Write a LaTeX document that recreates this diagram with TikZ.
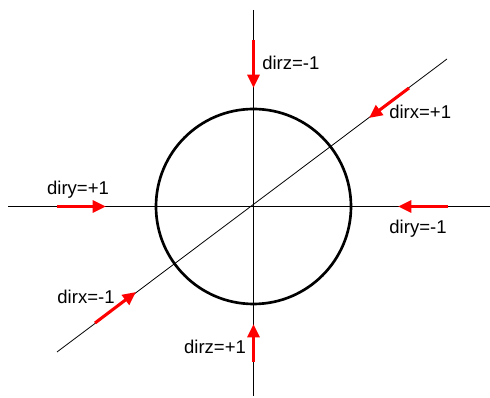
\documentclass[tikz,border=0pt]{standalone}
\usepackage{fontspec}
\setmainfont{Liberation Sans}
\usetikzlibrary{arrows.meta}
\begin{document}
\begin{tikzpicture}[x=0.75pt,y=-0.75pt,
  axis/.style={line width=0.6pt,black},
  ball/.style={circle,draw=black,line width=2pt,minimum size=195*0.75pt,inner sep=0pt},
  dirarrow/.style={red,line width=2.3pt,-{Triangle[length=10pt,width=9pt]}},
  lbl/.style={font=\fontsize{13.9}{16}\selectfont,inner sep=0pt}]
\useasboundingbox (0,0) rectangle (490,398);
% axes end points
\coordinate (ztop) at (253.5,10);
\coordinate (zbot) at (253.5,396);
\coordinate (yleft) at (8,206.5);
\coordinate (yright) at (490,206.5);
\coordinate (xtop) at (447,59);
\coordinate (xbot) at (57,352);
\node[ball] (sphere) at (253.5,206.5) {};
\draw[axis] (ztop) -- (zbot);
\draw[axis] (yleft) -- (yright);
\draw[axis] (xbot) -- (xtop);
% arrow coordinates
\coordinate (a1s) at (253.5,40);  \coordinate (a1e) at (253.5,88);
\coordinate (a2s) at (253.5,362); \coordinate (a2e) at (253.5,324);
\coordinate (a3s) at (57,206.5);  \coordinate (a3e) at (106,206.5);
\coordinate (a4s) at (448,206.5); \coordinate (a4e) at (398,206.5);
\coordinate (a5s) at (409,88);  \coordinate (a5e) at (369,118);
\coordinate (a6s) at (95,323);  \coordinate (a6e) at (136,292);
\draw[dirarrow] (a1s) -- (a1e);
\draw[dirarrow] (a2s) -- (a2e);
\draw[dirarrow] (a3s) -- (a3e);
\draw[dirarrow] (a4s) -- (a4e);
\draw[dirarrow] (a5s) -- (a5e);
\draw[dirarrow] (a6s) -- (a6e);
% labels
\node[lbl,anchor=west] (l1) at (262,63) {dirz=-1};
\node[lbl,anchor=west] (l2) at (389,112) {dirx=+1};
\node[lbl] (l3) at (78,190) {diry=+1};
\node[lbl] (l4) at (418,229) {diry=-1};
\node[lbl] (l5) at (86,297) {dirx=-1};
\node[lbl] (l6) at (215,347) {dirz=+1};
\end{tikzpicture}
\end{document}
